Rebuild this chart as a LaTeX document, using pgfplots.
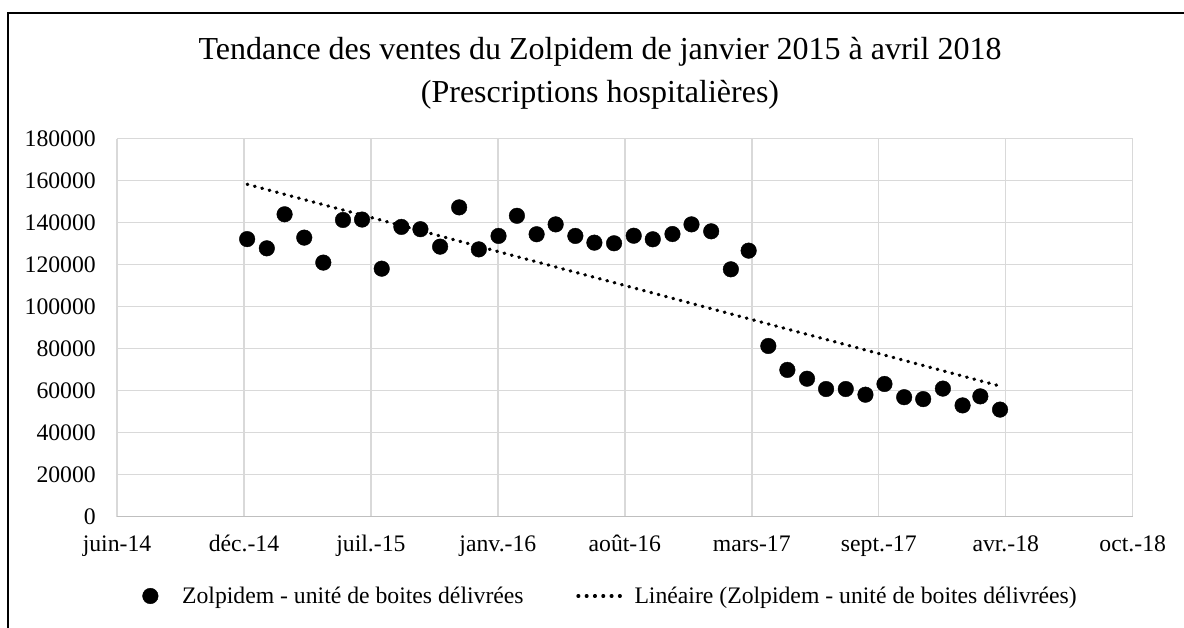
\documentclass[border=0pt]{standalone}
\usepackage{pgfplots}
\pgfplotsset{compat=1.18}
\usepackage{fontspec}
\setmainfont{Liberation Serif}
\definecolor{gridgray}{HTML}{D9D9D9}
\definecolor{axisgray}{HTML}{BFBFBF}
% x = days after 10 June 2014 (Excel serial 41800)
\begin{document}
\begin{tikzpicture}[x=1pt,y=1pt]
\useasboundingbox (0,0) rectangle (1184,-628);
\draw[line width=2pt] (7.5,-700) -- (7.5,-13) -- (1200,-13);
\node[font=\fontsize{32}{38}\selectfont, anchor=base] at (600,-60) {Tendance des ventes du Zolpidem de janvier 2015 à avril 2018};
\node[font=\fontsize{32}{38}\selectfont, anchor=base] at (600,-103) {(Prescriptions hospitalières)};
\begin{axis}[
  at={(117pt,-516.7pt)}, anchor=south west,
  width=1015.7pt, height=378pt, scale only axis,
  xmin=0, xmax=1600, ymin=0, ymax=180000,
  xtick={0,200,...,1600},
  xticklabels={juin-14,déc.-14,juil.-15,janv.-16,août-16,mars-17,sept.-17,avr.-18,oct.-18},
  ytick={0,20000,...,180000},
  yticklabels={0,20000,40000,60000,80000,100000,120000,140000,160000,180000},
  scaled ticks=false,
  axis x line=bottom, axis y line=left,
  x axis line style={-, draw=axisgray, line width=1.5pt},
  y axis line style={-, draw=none},
  major tick length=0pt,
  grid=major,
  major grid style={draw=gridgray, line width=1.4pt},
  tick label style={font=\fontsize{23.7}{28}\selectfont, inner sep=0pt},
  xticklabel style={anchor=base, yshift=-35pt},
  yticklabel style={anchor=east, xshift=-21pt},
  clip=false,
  legend columns=2,
  legend cell align=left,
  legend style={draw=none, fill=none, inner sep=0pt, at={(0.0248,-0.2098)}, anchor=west,
    font=\fontsize{23.7}{28}\selectfont,
    nodes={inner sep=0pt},
    /tikz/column sep=0pt,
    /tikz/every even column/.append style={column sep=52.7pt}},
]
\addplot[only marks, mark=*, mark size=7.8pt, mark options={fill=black, draw=black},
  legend image code/.code={\fill[black] (7.8pt,0pt) circle (7.8pt); \path[draw=none,fill=none] (0pt,0pt) -- (39.5pt,0pt);}]
  table[x=d, y=v] {
d v
205 132200
236 127800
264 144000
295 132900
325 121000
356 141300
386 141500
417 118100
448 138000
478 136900
509 128600
539 147300
570 127300
601 133700
630 143300
661 134500
691 139200
722 133700
752 130500
783 130200
814 133800
844 132100
875 134600
905 139200
936 135900
967 117800
995 126700
1026 81300
1056 69900
1087 65700
1117 60800
1148 60800
1179 58100
1209 63200
1240 56900
1270 56000
1301 61000
1332 53000
1360 57300
1391 51000
};
\addlegendentry{Zolpidem - unité de boites délivrées}
\addplot[black, line width=3.3pt, line cap=round, dash pattern=on 0.7pt off 6.9pt,
  legend image code/.code={\draw[black, solid, line width=3.3pt, line cap=round, dash pattern=on 0.7pt off 7.6pt] (1.5pt,0pt) -- (50pt,0pt); \path[draw=none,fill=none] (0pt,0pt) -- (58pt,0pt);}]
  coordinates {(205,158300) (1391,62200)};
\addlegendentry{Linéaire (Zolpidem - unité de boites délivrées)}
\end{axis}
\end{tikzpicture}
\end{document}
